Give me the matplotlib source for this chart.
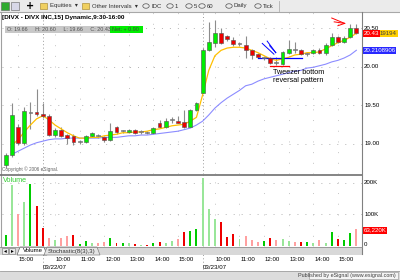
import numpy as np
import matplotlib
matplotlib.use("Agg")
import matplotlib.pyplot as plt
from matplotlib.patches import Rectangle, Circle, Polygon
from matplotlib.lines import Line2D

# DIVX 15 minute bars, 03/21 14:30 -> 03/23 15:45
opens = [18.72, 18.85, 19.22, 19.01, 19.40, 19.41, 19.38, 19.36, 19.11, 19.18,
         19.11, 19.10, 19.02, 19.02, 19.10, 19.10, 19.09, 19.05, 19.21, 19.16,
         19.15, 19.18, 19.15, 19.14, 19.14, 19.26, 19.21, 19.30, 19.29, 19.28,
         19.22, 19.44, 19.66, 20.22, 20.31, 20.44, 20.39, 20.35, 20.29, 20.28,
         20.21, 20.16, 20.11, 20.11, 20.05, 20.03, 20.18, 20.21, 20.22, 20.16,
         20.17, 20.22, 20.17, 20.28, 20.38, 20.32, 20.38, 20.50]
highs = [18.88, 19.52, 19.25, 19.47, 19.54, 19.71, 19.52, 19.38, 19.20, 19.21,
         19.12, 19.12, 19.04, 19.11, 19.15, 19.12, 19.10, 19.26, 19.23, 19.18,
         19.19, 19.19, 19.17, 19.16, 19.21, 19.30, 19.33, 19.34, 19.36, 19.44,
         19.45, 19.54, 20.24, 20.58, 20.60, 20.50, 20.41, 20.38, 20.32, 20.39,
         20.23, 20.18, 20.13, 20.12, 20.12, 20.20, 20.34, 20.32, 20.23, 20.18,
         20.23, 20.24, 20.30, 20.43, 20.40, 20.39, 20.55, 20.55]
lows = [18.68, 18.83, 18.98, 18.98, 19.19, 19.36, 19.33, 19.10, 19.09, 19.08,
        19.00, 18.98, 19.00, 19.01, 19.09, 19.07, 19.02, 19.03, 19.13, 19.14,
        19.14, 19.13, 19.12, 19.12, 19.13, 19.20, 19.20, 19.27, 19.26, 19.20,
        19.21, 19.42, 19.66, 20.20, 20.25, 20.29, 20.33, 20.27, 20.26, 20.11,
        20.10, 20.11, 20.08, 20.03, 20.02, 20.02, 20.16, 20.18, 20.15, 20.14,
        20.16, 20.16, 20.15, 20.26, 20.30, 20.30, 20.37, 20.42]
closes = [18.85, 19.37, 19.01, 19.42, 19.40, 19.38, 19.36, 19.11, 19.18, 19.10,
          19.07, 19.02, 19.02, 19.10, 19.14, 19.10, 19.04, 19.16, 19.15, 19.16,
          19.18, 19.14, 19.15, 19.14, 19.20, 19.22, 19.29, 19.30, 19.27, 19.22,
          19.44, 19.53, 20.22, 20.32, 20.44, 20.31, 20.36, 20.29, 20.29, 20.22,
          20.15, 20.13, 20.11, 20.05, 20.05, 20.19, 20.23, 20.21, 20.16, 20.16,
          20.22, 20.18, 20.28, 20.38, 20.32, 20.37, 20.50, 20.43]

# moving averages as drawn on the chart
ma_fast = [np.nan, 18.98, 19.05, 19.15, 19.24, 19.32, 19.36, 19.31, 19.24, 19.19,
           19.14, 19.10, 19.07, 19.07, 19.08, 19.08, 19.10, 19.11, 19.12, 19.14,
           19.14, 19.15, 19.15, 19.16, 19.18, 19.19, 19.21, 19.23, 19.24, 19.25,
           19.29, 19.34, 19.63, 19.95, 20.14, 20.21, 20.24, 20.25, 20.25, 20.24,
           20.21, 20.18, 20.14, 20.10, 20.08, 20.10, 20.12, 20.15, 20.16, 20.18,
           20.18, 20.19, 20.23, 20.27, 20.31, 20.34, 20.38, 20.4319194]
ma_slow = [np.nan, 18.86, 18.90, 18.94, 18.98, 19.01, 19.03, 19.05, 19.06, 19.06,
           19.07, 19.07, 19.07, 19.07, 19.07, 19.07, 19.08, 19.08, 19.08, 19.09,
           19.10, 19.10, 19.11, 19.11, 19.12, 19.13, 19.14, 19.15, 19.16, 19.18,
           19.20, 19.24, 19.29, 19.37, 19.46, 19.53, 19.59, 19.64, 19.69, 19.75,
           19.77, 19.81, 19.84, 19.86, 19.88, 19.90, 19.92, 19.94, 19.95, 19.98,
           19.99, 20.01, 20.03, 20.06, 20.08, 20.11, 20.15, 20.2108906]

# volume in thousands of shares
volume_k = [35, 194, 102, 141, 197, 128, 58, 26, 19, 25,
            32, 35, 6, 16, 9, 9, 14, 24, 10, 9,
            9, 5, 3, 3, 10, 14, 9, 16, 21, 45,
            49, 53, 215, 117, 85, 75, 28, 37, 21, 32,
            19, 14, 17, 26, 19, 22, 16, 12, 14, 14,
            9, 19, 9, 45, 21, 19, 42, 53]
vol_kind = ["G", "LG", "P", "LG", "G", "R", "R", "P", "LG", "P",
            "P", "R", "G", "G", "LG", "P", "P", "G", "R", "G",
            "LG", "R", "LG", "R", "G", "R", "LG", "LG", "P", "R",
            "G", "G", "LG", "LG", "LG", "R", "R", "R", "LG", "P",
            "P", "P", "G", "R", "P", "LG", "LG", "P", "R", "G",
            "LG", "P", "LG", "G", "R", "G", "G", "P"]

tick_bars = [2, 8, 12, 16, 20, 24, 28, 34, 38, 42, 46, 50, 54]
tick_labels = ["15:00", "10:00", "11:00", "12:00", "13:00", "14:00", "15:00",
               "10:00", "11:00", "12:00", "13:00", "14:00", "15:00"]
day_bars = [6, 32]
day_labels = ["03/22/07", "03/23/07"]
price_ticks = [19.00, 19.50, 20.00, 20.50]
vol_ticks = [0, 100, 200]
vol_tick_labels = ["0", "100K", "200K"]

W, H = 400, 280
fig = plt.figure(figsize=(4, 2.8), dpi=100)
fig.patch.set_facecolor("white")
FONT = "Liberation Sans"
FONTS = [FONT, "DejaVu Sans"]


def fx(px):
    return px / W


def fy(py):
    return 1 - py / H


def box(x0, y0, x1, y1, **kw):
    fig.add_artist(Rectangle((fx(x0), fy(y1)), fx(x1) - fx(x0), (y1 - y0) / H,
                             transform=fig.transFigure, **kw))


def line(xs, ys, **kw):
    fig.add_artist(Line2D([fx(v) for v in xs], [fy(v) for v in ys],
                          transform=fig.transFigure, **kw))


ax = fig.add_axes([fx(2), fy(174), fx(362) - fx(2), (174 - 12) / H])
axv = fig.add_axes([fx(2), fy(247), fx(362) - fx(2), (247 - 175) / H])

idx = np.arange(len(opens))
o, h, l, c = map(np.array, (opens, highs, lows, closes))
xlim = (-0.62, 57.92)

for a in (ax, axv):
    a.set_xlim(*xlim)
    a.set_xticks([])
    a.set_yticks([])
    for s in a.spines.values():
        s.set_visible(False)
    for d in day_bars:
        a.axvline(d, color="#9a9a9a", lw=0.7, ls=(0, (1, 2.5)), zorder=1)
    for t in tick_bars:
        a.axvline(t, color="#c4c4c4", lw=0.7, ls=(0, (1, 10)), zorder=1)

# ---- price panel
ax.set_ylim(18.604, 20.708)
for p in price_ticks:
    ax.axhline(p, color="#b4b4b4", lw=0.7, ls=(0, (1, 7.2)), zorder=1)

ax.vlines(idx, l, h, color="#8c8c8c", lw=0.8, zorder=3)
ax.plot(idx, ma_slow, color="#8c8cff", lw=0.8, zorder=3.2)
ax.plot(idx, ma_fast, color="#ffc000", lw=0.9, zorder=3.3)
up = c > o
dn = c < o
body_col = np.where(up, "#00ee00", np.where(dn, "#ee0000", "#d0d0d0"))
ax.bar(idx, np.maximum(np.abs(c - o), 0.014), width=0.62,
       bottom=np.minimum(o, c), color=body_col, edgecolor="#505050",
       linewidth=0.4, zorder=4)

# hand drawn marks
ax.plot([41.0, 48.2], [20.115, 20.115], color="#0000ff", lw=0.9, zorder=3.6)
ax.plot([43.0, 46.1], [20.005, 20.005], color="#ff0000", lw=0.9, zorder=5)
for (x0, y0), (x1, y1) in [((41.7, 20.30), (43.6, 20.16)),
                           ((42.5, 20.33), (43.9, 20.18)),
                           ((42.9, 20.27), (43.9, 20.18))]:
    ax.plot([x0, x1], [y0, y1], color="#0000ff", lw=0.7, zorder=5)
for (x0, y0), (x1, y1) in [((53.0, 20.63), (55.1, 20.56)),
                           ((53.4, 20.58), (55.1, 20.56)),
                           ((54.0, 20.53), (55.1, 20.56))]:
    ax.plot([x0, x1], [y0, y1], color="#ff0000", lw=0.7, zorder=5)
ax.text(43.5, 19.875, "Tweezer bottom\nreversal pattern", fontsize=5.2,
        family=FONT, color="#000000", va="center", ha="left",
        linespacing=1.15, zorder=6)

yt = ax.get_yaxis_transform()
for p in price_ticks:
    ax.text(1.006, p, f"{p:.2f}", transform=yt, fontsize=4.4, family=FONT,
            va="center", ha="left", clip_on=False)
# last close in red, the rest of the fast average value on yellow behind it
ma_fast_txt = f"{ma_fast[-1]:.7f}"
close_txt = f"{c[-1]:.2f}"
ax.text(1.05, ma_fast[-1], ma_fast_txt[len(close_txt):], transform=yt,
        fontsize=4.4, family=FONT, color="#404040", va="center", ha="left",
        clip_on=False,
        bbox=dict(boxstyle="square,pad=0.15", fc="#ffd000", ec="none"))
ax.text(1.004, c[-1], close_txt, transform=yt, fontsize=4.4,
        family=FONT, color="white", va="center", ha="left", clip_on=False,
        bbox=dict(boxstyle="square,pad=0.15", fc="#ff0000", ec="none"))
ax.text(1.004, ma_slow[-1], f"{ma_slow[-1]:.7f}", transform=yt, fontsize=4.4,
        family=FONT, color="white", va="center", ha="left", clip_on=False,
        bbox=dict(boxstyle="square,pad=0.15", fc="#2828ff", ec="none"))

# ---- volume panel
axv.set_ylim(-3.2, 225)
for v in vol_ticks[1:]:
    axv.axhline(v, color="#b4b4b4", lw=0.7, ls=(0, (1, 7.2)), zorder=1)
vol_palette = {"G": "#00cc00", "LG": "#99e699", "R": "#ee0000", "P": "#ffa0a0"}
axv.bar(idx, volume_k, width=0.32, color=[vol_palette[k] for k in vol_kind],
        zorder=3)
axv.text(0.003, 0.93, "Volume", transform=axv.transAxes, fontsize=5.2,
         family=FONT, color="#33cc33", va="center", ha="left")
yv = axv.get_yaxis_transform()
for v, lab in zip(vol_ticks, vol_tick_labels):
    axv.text(1.006, v + (6 if v == 0 else 0), lab, transform=yv, fontsize=4.4,
             family=FONT, va="center", ha="left", clip_on=False)
axv.text(1.004, volume_k[-1] - 3, "63,220K", transform=yv, fontsize=4.4,
         family=FONT, color="white", va="center", ha="left", clip_on=False,
         bbox=dict(boxstyle="square,pad=0.15", fc="#ff0000", ec="none"))

# ---- chrome: toolbar, headers, tabs, status bar
box(0, 0, 400, 12, fc="#ebebeb", ec="none")
line([0, 400], [12, 12], color="#a8a8a8", lw=0.8)
box(1, 2, 9, 10, fc="#2faa2f", ec="#606060", lw=0.4)
box(11, 2, 19, 10, fc="#d8d8e8", ec="#606060", lw=0.4)
fig.text(fx(30), fy(6), "+", fontsize=7, weight="bold", va="center", ha="center")
for xf, lab in [(40, "Equities"), (82, "Other Intervals")]:
    box(xf, 3, xf + 7, 9, fc="#f0d060", ec="#a08020", lw=0.4)
    fig.text(fx(xf + 10), fy(6), lab + "  \u25be", fontsize=4.3, family=FONTS,
             va="center", ha="left", color="#303030")
for xc, lab in [(146, "IDC"), (170, "1"), (189, "5"), (202, "60"),
                (229, "Daily"), (258, "Tick")]:
    fig.add_artist(Circle((fx(xc), fy(6)), 3.2 / W, transform=fig.transFigure,
                          fc="none", ec="#505050", lw=0.5))
    fig.text(fx(xc + 5), fy(6), lab, fontsize=4.3, family=FONT,
             va="center", ha="left", color="#303030")
line([279, 279], [1, 11], color="#b0b0b0", lw=0.6)

fig.text(fx(2), fy(18), "[DIVX - DIVX INC,15] Dynamic,9:30-16:00", fontsize=4.6,
         family=FONT, weight="bold", va="center", ha="left")
box(5, 26, 110, 33, fc="#c8c8c8", ec="none")
box(110, 26, 143, 33, fc="#00ee00", ec="none")
fig.text(fx(7), fy(29.5), "O: 19.66     H: 20.60     L: 19.66     C: 20.43",
         fontsize=3.9, family=FONT, va="center", ha="left", color="#505050")
fig.text(fx(112), fy(29.5), "Net: + 0.90", fontsize=3.9, family=FONT,
         va="center", ha="left", color="#404040")
fig.text(fx(2), fy(169), "Copyright \u00a9 2006 eSignal.", fontsize=3.4,
         family=FONT, va="center", ha="left", color="#606060")

line([1, 1], [12, 247], color="#a0a0a0", lw=0.8)
line([0, 362], [174.5, 174.5], color="#707070", lw=1.2)
line([362, 362], [12, 254], color="#808080", lw=0.8)

box(0, 247, 362, 255, fc="#d8d8d8", ec="none")
line([0, 362], [247, 247], color="#909090", lw=0.6)
box(2, 248, 8, 254, fc="#e8e8e8", ec="#707070", lw=0.4)
box(9, 248, 15, 254, fc="#e8e8e8", ec="#707070", lw=0.4)
fig.text(fx(5), fy(251), "\u25c2", fontsize=4, va="center", ha="center")
fig.text(fx(12), fy(251), "\u25b8", fontsize=4, va="center", ha="center")
fig.add_artist(Polygon([(fx(17), fy(255)), (fx(20), fy(247)), (fx(44), fy(247)),
                        (fx(47), fy(255))], closed=True, transform=fig.transFigure,
                       fc="white", ec="#606060", lw=0.5))
fig.text(fx(23), fy(251), "Volume", fontsize=4.3, family=FONT, va="center",
         ha="left")
fig.add_artist(Polygon([(fx(44), fy(255)), (fx(47), fy(247)), (fx(97), fy(247)),
                        (fx(100), fy(255))], closed=True, transform=fig.transFigure,
                       fc="#e4e4e4", ec="#808080", lw=0.5))
fig.text(fx(48), fy(251), "Stochastic(8(3),3)", fontsize=4.3, family=FONT,
         va="center", ha="left", color="#303030")

xt = axv.get_xaxis_transform()
for t, lab in zip(tick_bars, tick_labels):
    axv.text(t + 0.15, -0.167, lab, transform=xt, fontsize=4.4, family=FONT,
             va="center", ha="left", clip_on=False)
for d, lab in zip(day_bars, day_labels):
    axv.text(d, -0.278, lab, transform=xt, fontsize=4.4, family=FONT,
             va="center", ha="left", clip_on=False)
    axv.plot([d, d], [-0.3, 0], transform=xt, color="#9a9a9a", lw=0.7,
             ls=(0, (1, 2.5)), clip_on=False)

box(0, 271, 400, 280, fc="#dcdcdc", ec="none")
line([0, 400], [271, 271], color="#a0a0a0", lw=0.6)
box(309, 272, 398, 279, fc="#f4f4f4", ec="#909090", lw=0.4)
fig.text(fx(396), fy(275.5), "Published by eSignal (www.esignal.com)",
         fontsize=3.9, family=FONT, va="center", ha="right", color="#404040")

fig.savefig("out.png", dpi=100)
